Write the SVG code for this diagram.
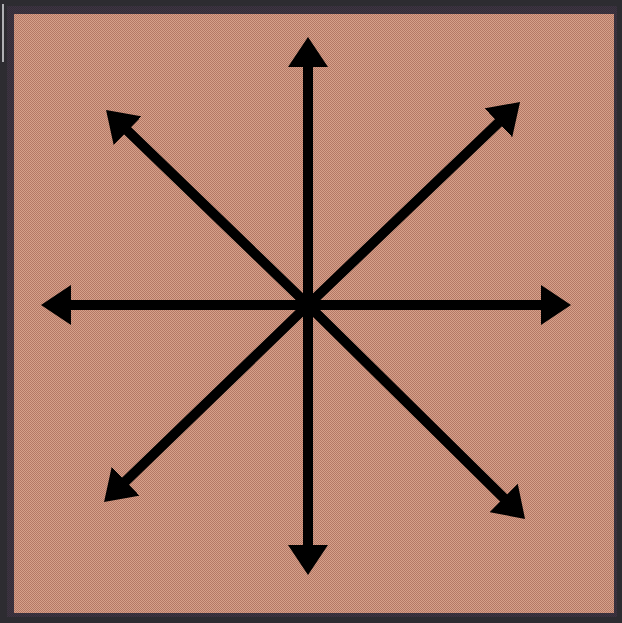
<svg xmlns="http://www.w3.org/2000/svg" width="622" height="623" viewBox="0 0 622 623">
  <style>
    .arrow { stroke: #000; stroke-width: 10; fill: none; marker-end: url(#head); }
  </style>
  <defs>
    <pattern id="checker" x="0" y="0" width="2" height="2" patternUnits="userSpaceOnUse">
      <rect x="0" y="0" width="2" height="2" fill="#d6a08a"/>
      <rect x="0" y="0" width="1" height="1" fill="#b47865"/>
      <rect x="1" y="1" width="1" height="1" fill="#b47865"/>
    </pattern>
    <pattern id="checkerDark" x="0" y="0" width="2" height="2" patternUnits="userSpaceOnUse">
      <rect x="0" y="0" width="2" height="2" fill="#3e3542"/>
      <rect x="0" y="0" width="1" height="1" fill="#332c38"/>
      <rect x="1" y="1" width="1" height="1" fill="#332c38"/>
    </pattern>
    <marker id="head" markerUnits="userSpaceOnUse" markerWidth="31" markerHeight="40" viewBox="0 0 31 40" refX="1" refY="20" orient="auto">
      <path d="M0,0 L30,20 L0,40 Z" fill="#000"/>
    </marker>
  </defs>
  <g id="frame">
    <rect x="0" y="0" width="622" height="623" fill="#2d2c31"/>
    <rect x="2" y="4" width="2" height="58" fill="#b0b0b4"/>
    <rect x="7" y="6" width="610" height="611" fill="url(#checkerDark)"/>
    <rect x="14" y="14" width="600" height="599" fill="url(#checker)"/>
  </g>
  <g id="connectors">
    <line class="arrow" x1="308" y1="305" x2="308" y2="66"/>
    <line class="arrow" x1="308" y1="305" x2="308" y2="546"/>
    <line class="arrow" x1="308" y1="305" x2="70" y2="305"/>
    <line class="arrow" x1="308" y1="305" x2="542" y2="305"/>
    <line class="arrow" x1="308" y1="305" x2="126.9" y2="130.1"/>
    <line class="arrow" x1="308" y1="305" x2="499.1" y2="122.1"/>
    <line class="arrow" x1="308" y1="305" x2="124.9" y2="481.9"/>
    <line class="arrow" x1="308" y1="305" x2="504.4" y2="498.6"/>
  </g>
</svg>
